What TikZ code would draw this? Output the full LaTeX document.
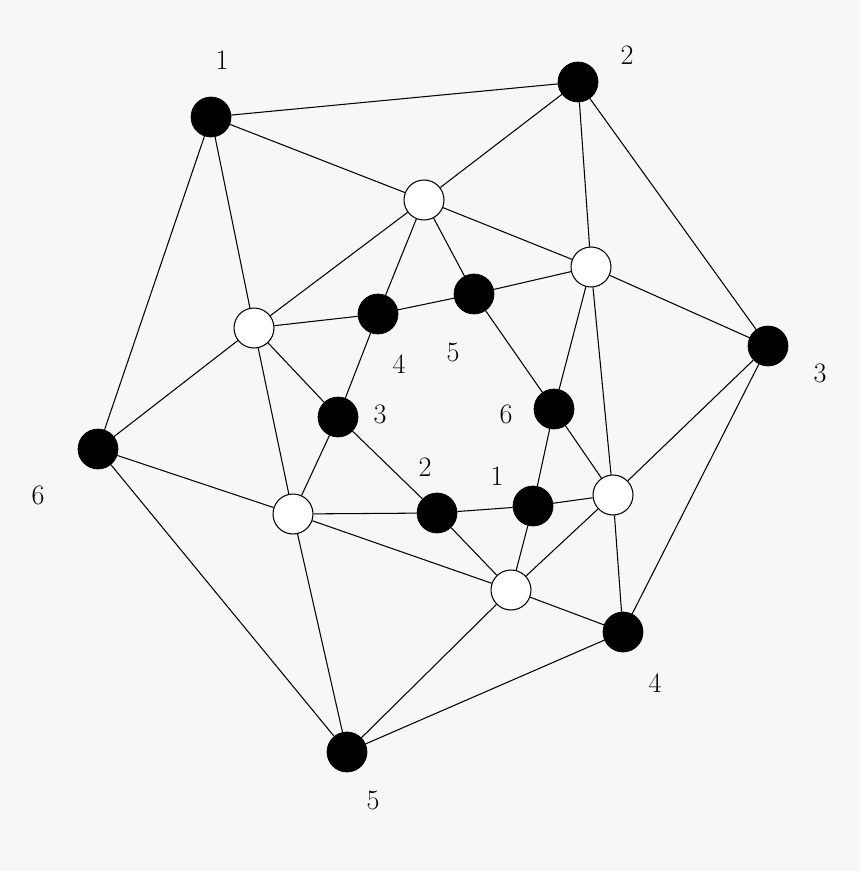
\documentclass[tikz,border=0pt]{standalone}
\usetikzlibrary{backgrounds}
\begin{document}
\begin{tikzpicture}[x=0.02cm,y=-0.02cm]
\tikzstyle{black_node} = [circle, draw=black, fill=black, minimum size=0.8cm, inner sep=0]
\tikzstyle{white_node} = [circle, draw=black, line width=0.6pt, fill=white, minimum size=0.8cm, inner sep=0]
\tikzstyle{edge_style} = [black, line width=0.6pt]
\tikzstyle{label_style} = [font=\fontsize{16}{18}\selectfont]
    % outer ring
    \node[black_node] (o1) at (211,117) {};
    \node[black_node] (o2) at (578,82) {};
    \node[black_node] (o3) at (768,346) {};
    \node[black_node] (o4) at (623,632) {};
    \node[black_node] (o5) at (347,752) {};
    \node[black_node] (o6) at (98,449) {};

    % inner ring
    \node[black_node] (i1) at (533,506) {};
    \node[black_node] (i2) at (437,513) {};
    \node[black_node] (i3) at (338,417) {};
    \node[black_node] (i4) at (378,314) {};
    \node[black_node] (i5) at (474,294) {};
    \node[black_node] (i6) at (554,409) {};

    % white nodes
    \node[white_node] (w1) at (424,200) {};
    \node[white_node] (w2) at (591,267) {};
    \node[white_node] (w3) at (613,495) {};
    \node[white_node] (w4) at (511,590) {};
    \node[white_node] (w5) at (293,514) {};
    \node[white_node] (w6) at (254,328) {};

    \begin{scope}[on background layer]
    \fill[black!3] (0,0) rectangle (860,871);
    \foreach \a/\b in {o1/o2,o2/o3,o3/o4,o4/o5,o5/o6,o6/o1,
        o1/w1,o1/w6,o2/w1,o2/w2,o3/w2,o3/w3,o4/w3,o4/w4,o5/w4,o5/w5,o6/w5,o6/w6,
        w1/w2,w2/w3,w3/w4,w4/w5,w5/w6,w6/w1,
        w6/i4,i4/i5,i5/w2,w1/i4,w1/i5,i4/i3,i3/w6,i3/i2,i5/i6,i6/w2,i6/w3,
        i6/i1,i1/i2,i1/w3,i2/w5,i3/w5,i2/w4,i1/w4}
        \draw[edge_style] (\a) -- (\b);
    \end{scope}

    \node[label_style] (lo1) at (222,60) {1};
    \node[label_style] (lo2) at (627,55) {2};
    \node[label_style] (lo3) at (820,373) {3};
    \node[label_style] (lo4) at (655,683) {4};
    \node[label_style] (lo5) at (373,800) {5};
    \node[label_style] (lo6) at (38,495) {6};
    \node[label_style] (li1) at (497,476) {1};
    \node[label_style] (li2) at (425,467) {2};
    \node[label_style] (li3) at (380,414) {3};
    \node[label_style] (li4) at (399,364) {4};
    \node[label_style] (li5) at (453,352) {5};
    \node[label_style] (li6) at (506,414) {6};
\end{tikzpicture}
\end{document}
